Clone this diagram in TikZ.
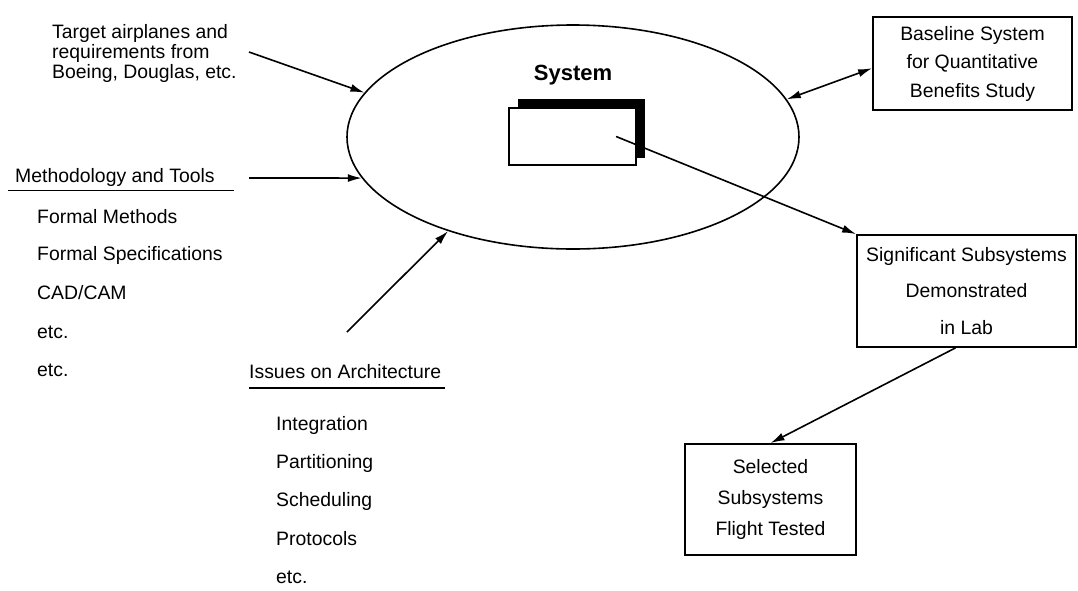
\documentclass[tikz,border=0pt]{standalone}
\usepackage{fontspec}
\setmainfont{Liberation Sans}
\usetikzlibrary{shapes.geometric,arrows.meta,calc}
\tikzset{
  txt/.style={inner sep=0pt, anchor=west, font=\fontsize{19.4}{20}\selectfont},
  boxnode/.style={draw, line width=1.8pt, align=center, inner sep=0pt},
  conn/.style={line width=1.6pt, -{Latex[length=14pt,width=8pt]}},
  rule/.style={line width=1.8pt}
}
\begin{document}
\begin{tikzpicture}[x=1pt,y=-1pt]
\useasboundingbox (0,0) rectangle (1078,590);
% central ellipse
\node[draw, ellipse, line width=1.6pt, minimum width=452, minimum height=224, inner sep=0pt] (sys) at (573,137) {};
\node[font=\fontsize{22}{24}\selectfont\bfseries, inner sep=0pt] (systxt) at (573,75) {System};
\node[fill=black, minimum width=127, minimum height=59, inner sep=0pt] (shadow) at (581.5,128.5) {};
\node[draw, fill=white, line width=1.2pt, minimum width=127, minimum height=57, inner sep=0pt] (inner) at (572.5,136.5) {};
% left texts
\node[txt, align=left, font=\fontsize{19.4}{20}\selectfont] (target) at (52,53) {Target airplanes and\\requirements from\\Boeing, Douglas, etc.};
\node[txt] (meth) at (15,177) {Methodology and Tools};
\coordinate (methL) at (8,190.5);
\coordinate (methR) at (234,190.5);
\draw[rule] (methL) -- (methR);
\node[txt] (m1) at (37,217) {Formal Methods};
\node[txt] (m2) at (37,255) {Formal Specifications};
\node[txt] (m3) at (37,293) {CAD/CAM};
\node[txt] (m4) at (37,332) {etc.};
\node[txt] (m5) at (37,370) {etc.};
\node[txt] (issues) at (249,372) {Issues on Architecture};
\coordinate (issL) at (249,388);
\coordinate (issR) at (445,388);
\draw[rule] (issL) -- (issR);
\node[txt] (i1) at (276,425) {Integration};
\node[txt] (i2) at (276,463) {Partitioning};
\node[txt] (i3) at (276,501) {Scheduling};
\node[txt] (i4) at (276,539) {Protocols};
\node[txt] (i5) at (276,577) {etc.};
% right boxes
\node[boxnode, minimum width=199, minimum height=93, font=\fontsize{19.4}{28.5}\selectfont] (base) at (972.5,63.5) {Baseline System\\for Quantitative\\Benefits Study};
\node[boxnode, minimum width=219, minimum height=112, font=\fontsize{19.4}{36.5}\selectfont] (sig) at (966.5,291) {Significant Subsystems\\Demonstrated\\in Lab};
\node[boxnode, minimum width=171, minimum height=111, font=\fontsize{19.4}{31}\selectfont] (sel) at (770.5,499.5) {Selected\\Subsystems\\Flight Tested};
% connectors
\coordinate (a1) at (249,52);
\coordinate (a2) at (249,178);
\coordinate (a3) at (347,332);
\draw[conn] (a1) -- (sys.168.4);
\draw[conn] (a2) -- (sys.191);
\draw[conn] (a3) -- (sys.217);
\draw[line width=1.6pt, {Latex[length=14pt,width=8pt]}-{Latex[length=14pt,width=8pt]}] (sys.10.6) -- ($(base.north west)!0.55!(base.south west)$);
\draw[conn] ($(inner.west)!0.84!(inner.east)$) -- (sig.north west);
\draw[conn] ($(sig.south west)!0.45!(sig.south east)$) -- (sel.north);
\end{tikzpicture}
\end{document}
